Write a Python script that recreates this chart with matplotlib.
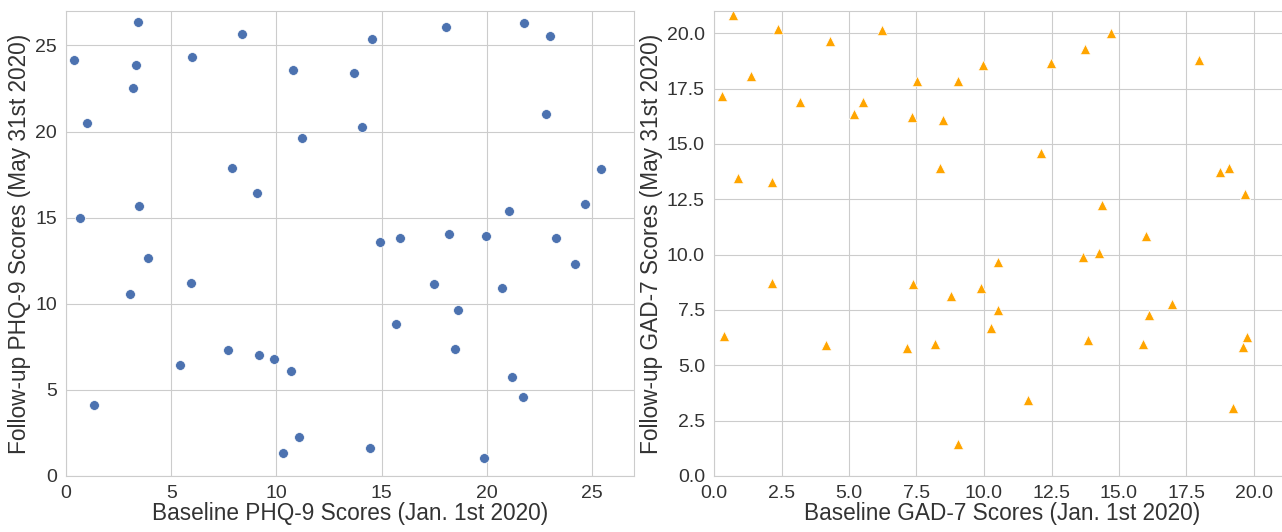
import matplotlib
matplotlib.use("Agg")
import matplotlib.pyplot as plt
import seaborn as sns

# PHQ-9: baseline vs follow-up
phq_base = [3.43, 0.38, 3.33, 3.2, 1.0, 8.38, 5.98, 10.79, 13.68, 14.06,
            11.22, 7.9, 9.08, 3.49, 0.68, 14.55, 18.08, 21.78, 23.03, 22.81,
            25.43, 24.68, 21.05, 3.89, 3.06, 5.95, 7.7, 5.43, 9.16, 9.87,
            10.68, 1.35, 11.06, 10.32, 14.92, 15.86, 18.2, 19.97, 23.3, 24.2,
            17.47, 20.74, 18.63, 15.7, 18.47, 21.19, 21.7, 14.44, 19.89]
phq_follow = [26.38, 24.17, 23.84, 22.52, 20.5, 25.68, 24.32, 23.59, 23.41, 20.25,
              19.63, 17.87, 16.44, 15.7, 15.0, 25.37, 26.07, 26.32, 25.52, 21.0,
              17.83, 15.8, 15.39, 12.63, 10.54, 11.2, 7.33, 6.45, 7.01, 6.78,
              6.08, 4.13, 2.27, 1.34, 13.59, 13.84, 14.07, 13.95, 13.82, 12.33,
              11.14, 10.93, 9.63, 8.84, 7.38, 5.76, 4.59, 1.61, 1.06]

# GAD-7: baseline vs follow-up
gad_base = [0.72, 2.38, 4.3, 6.23, 1.36, 0.3, 3.19, 5.2, 5.53, 7.35,
            7.52, 8.5, 9.02, 9.96, 0.9, 2.14, 8.36, 12.47, 13.73, 14.72,
            17.95, 12.12, 18.74, 19.06, 19.68, 14.38, 16.01, 2.16, 0.37, 4.14,
            7.37, 8.77, 9.89, 10.53, 10.51, 10.26, 7.16, 8.2, 9.05, 13.68,
            14.26, 16.96, 16.1, 13.86, 15.9, 19.73, 19.58, 11.64, 19.23]
gad_follow = [20.83, 20.19, 19.65, 20.14, 18.05, 17.16, 16.88, 16.35, 16.88, 16.2,
              17.86, 16.09, 17.86, 18.58, 13.47, 13.29, 13.92, 18.67, 19.28, 19.99,
              18.79, 14.6, 13.72, 13.9, 12.75, 12.22, 10.83, 8.72, 6.33, 5.9,
              8.66, 8.11, 8.48, 9.68, 7.5, 6.67, 5.76, 5.96, 1.43, 9.88,
              10.08, 7.77, 7.29, 6.14, 5.94, 6.29, 5.84, 3.45, 3.06]

sns.set_style("whitegrid")
plt.rcParams['font.family'] = ['Liberation Sans', 'DejaVu Sans']
txt = "#333333"
plt.rcParams['text.color'] = txt
plt.rcParams['axes.labelcolor'] = txt
plt.rcParams['xtick.color'] = txt
plt.rcParams['ytick.color'] = txt

fig = plt.figure(figsize=(12.82, 5.32), dpi=100)
W, H = 1282, 532
ax1 = fig.add_axes([66 / W, 56 / H, 568 / W, 465 / H])
ax2 = fig.add_axes([714 / W, 56 / H, 576 / W, 465 / H])

ax1.scatter(phq_base, phq_follow, s=50, color="#4C72B0", edgecolor="white", linewidth=0.5)
ax1.set_xlim(0, 27)
ax1.set_ylim(0, 27)
ax1.set_xticks([0, 5, 10, 15, 20, 25])
ax1.set_yticks([0, 5, 10, 15, 20, 25])
ax1.set_xlabel("Baseline PHQ-9 Scores (Jan. 1st 2020)", fontsize=16.3, labelpad=0)
ax1.set_ylabel("Follow-up PHQ-9 Scores (May 31st 2020)", fontsize=16.3, labelpad=3)

ax2.scatter(gad_base, gad_follow, s=55, marker="^", color="orange", edgecolor="white", linewidth=0.5)
ax2.set_xlim(0, 576 / 27)
ax2.set_ylim(0, 21)
ax2.set_xticks([0, 2.5, 5, 7.5, 10, 12.5, 15, 17.5, 20])
ax2.set_yticks([0, 2.5, 5, 7.5, 10, 12.5, 15, 17.5, 20])
ax2.xaxis.set_major_formatter(matplotlib.ticker.FormatStrFormatter("%.1f"))
ax2.yaxis.set_major_formatter(matplotlib.ticker.FormatStrFormatter("%.1f"))
ax2.set_xlabel("Baseline GAD-7 Scores (Jan. 1st 2020)", fontsize=16.3, labelpad=0)
ax2.set_ylabel("Follow-up GAD-7 Scores (May 31st 2020)", fontsize=16.3, labelpad=3)

for ax in (ax1, ax2):
    ax.tick_params(labelsize=14, pad=3)

fig.savefig("out.png", dpi=100)
